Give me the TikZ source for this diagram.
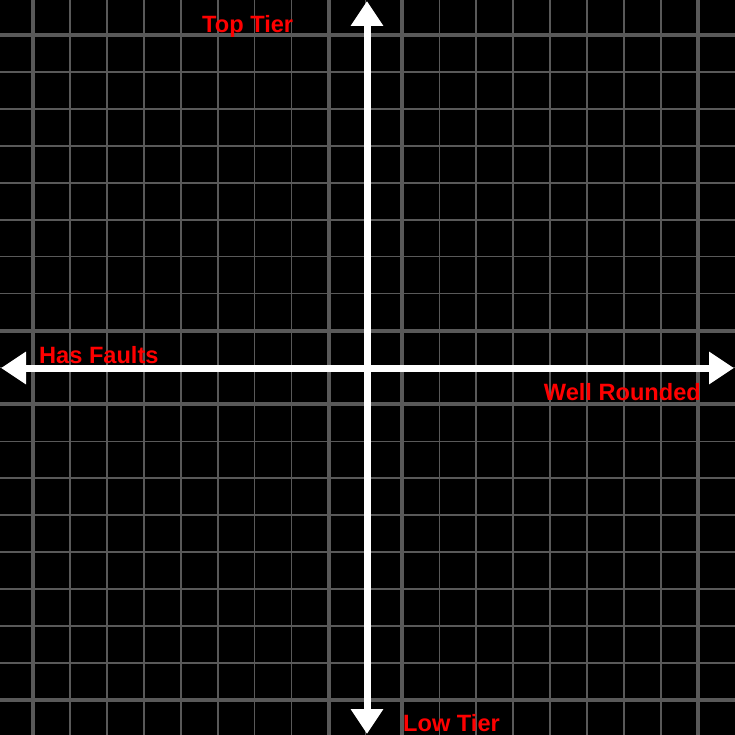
\documentclass[tikz,border=0pt]{standalone}
\usepackage{xcolor}
\usepackage{fontspec}
\usepackage{tikz}
\usetikzlibrary{
  arrows.meta,
  positioning
}
\newfontfamily\tierfont{Liberation Sans}
\definecolor{qdBack}{HTML}{000000}
\definecolor{qdGrid}{HTML}{595959}
\definecolor{qdAxis}{HTML}{FFFFFF}
\definecolor{qdRed}{HTML}{FF0000}
\tikzset{
  gridline/.style={draw=qdGrid, line width=1.6pt},
  gridmajor/.style={gridline, line width=4pt},
  axisarrow/.style={
    draw=qdAxis, line width=7pt,
    {Triangle[length=25pt, width=31pt]}-{Triangle[length=25pt, width=31pt]}
  },
  tierlabel/.style={
    text=qdRed, inner sep=0pt, text depth=0pt,
    font=\tierfont\bfseries\fontsize{23.6}{27}\selectfont
  }
}

\begin{document}
\begin{tikzpicture}[x=1pt, y=-1pt]
  \fill[qdBack] (0,0) rectangle (735,735);
  \useasboundingbox (0,0) rectangle (735,735);
  % grid
  \foreach \k in {0,...,18} {
    \ifnum\k=0 \def\gs{gridmajor}\else
    \ifnum\k=8 \def\gs{gridmajor}\else
    \ifnum\k=10 \def\gs{gridmajor}\else
    \ifnum\k=18 \def\gs{gridmajor}\else
    \def\gs{gridline}\fi\fi\fi\fi
    \draw[\gs] ({33+36.94*\k},0) -- ({33+36.94*\k},735);
    \draw[\gs] (0,{35+36.94*\k}) -- (735,{35+36.94*\k});
  }
  % axes
  \coordinate (top) at (367,1);
  \coordinate (bottom) at (367,734);
  \coordinate (left) at (1,368);
  \coordinate (right) at (734,368);
  \draw[axisarrow] (bottom) -- (top);
  \draw[axisarrow] (left) -- (right);
  % labels
  \node[tierlabel, anchor=base west] (toptier) at (202,33) {Top Tier};
  \node[tierlabel, anchor=base west] (lowtier) at (403,731.5) {Low Tier};
  \node[tierlabel, anchor=base west] (faults) at (39,363) {Has Faults};
  \node[tierlabel, anchor=base east] (rounded) at (701,400) {Well Rounded};
\end{tikzpicture}
\end{document}
